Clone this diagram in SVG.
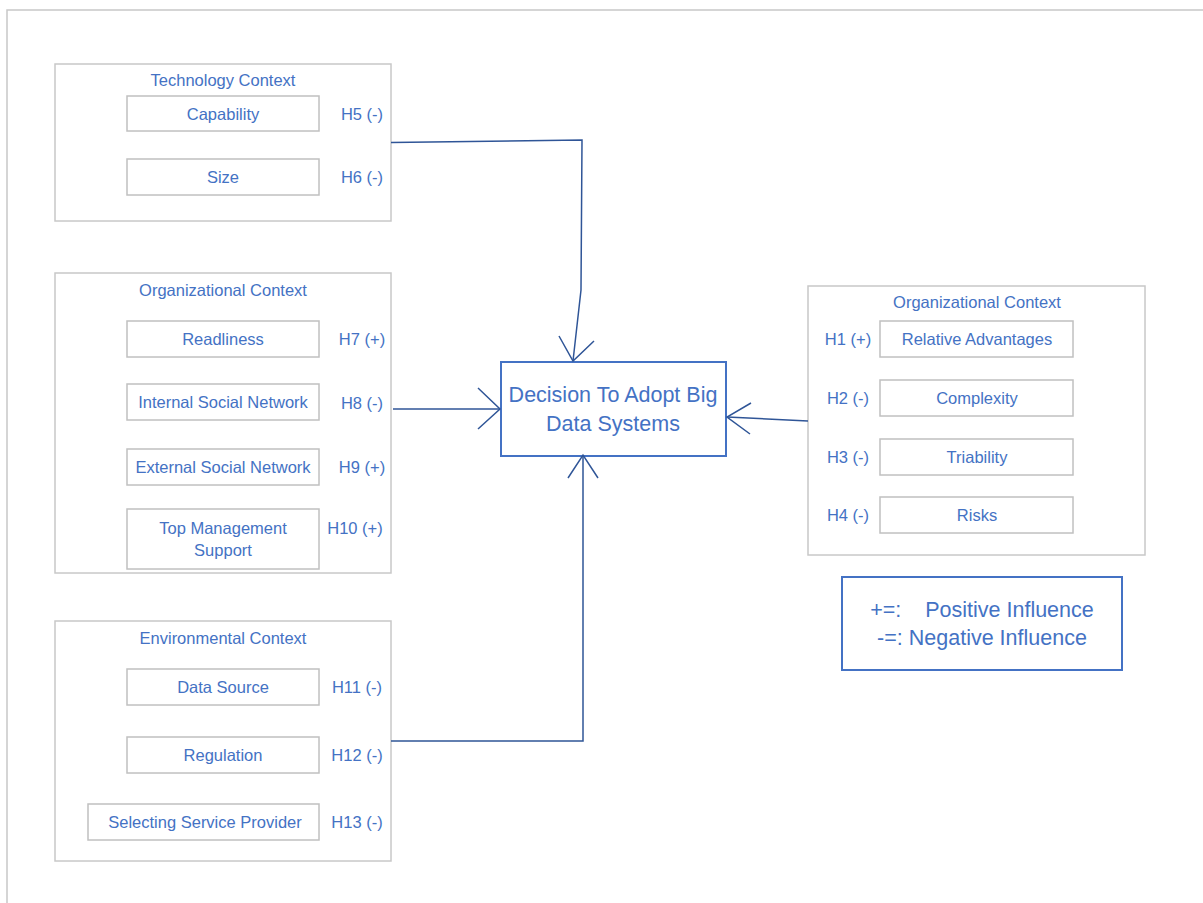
<svg xmlns="http://www.w3.org/2000/svg" width="1203" height="903" viewBox="0 0 1203 903">
<defs>
<style>
.frame{fill:none;stroke:#c8c8c8;stroke-width:1.5}
.grp{fill:#fff;stroke:#c8c8c8;stroke-width:1.5}
.item{fill:#fff;stroke:#c0c0c0;stroke-width:1.5}
.main{fill:#fff;stroke:#4472c4;stroke-width:2}
.t{font-family:"Liberation Sans",Arial,sans-serif;font-size:16.5px;fill:#4472c4;text-anchor:middle;dominant-baseline:central}
.big{font-size:21.5px}
.con{fill:none;stroke:#2f5597;stroke-width:1.5}
</style>
</defs>
<rect width="1203" height="903" fill="#fff"/>
<path class="frame" d="M7,903 V10 H1203"/>

<g id="tech">
<rect class="grp" x="55" y="64" width="336" height="157"/>
<text class="t" x="223" y="80">Technology Context</text>
<rect class="item" x="127" y="96" width="192" height="35"/>
<text class="t" x="223" y="114">Capability</text>
<rect class="item" x="127" y="159" width="192" height="36"/>
<text class="t" x="223" y="177">Size</text>
<text class="t" x="362" y="114">H5 (-)</text>
<text class="t" x="362" y="177">H6 (-)</text>
</g>

<g id="org-left">
<rect class="grp" x="55" y="273" width="336" height="300"/>
<text class="t" x="223" y="290">Organizational Context</text>
<rect class="item" x="127" y="321" width="192" height="36"/>
<text class="t" x="223" y="339">Readliness</text>
<rect class="item" x="127" y="384" width="192" height="36"/>
<text class="t" x="223" y="402">Internal Social Network</text>
<rect class="item" x="127" y="449" width="192" height="36"/>
<text class="t" x="223" y="467">External Social Network</text>
<rect class="item" x="127" y="509" width="192" height="60"/>
<text class="t" x="223" y="528">Top Management</text>
<text class="t" x="223" y="550">Support</text>
<text class="t" x="362" y="339">H7 (+)</text>
<text class="t" x="362" y="403">H8 (-)</text>
<text class="t" x="362" y="467">H9 (+)</text>
<text class="t" x="355" y="528">H10 (+)</text>
</g>

<g id="env">
<rect class="grp" x="55" y="621" width="336" height="240"/>
<text class="t" x="223" y="638">Environmental Context</text>
<rect class="item" x="127" y="669" width="192" height="36"/>
<text class="t" x="223" y="687">Data Source</text>
<rect class="item" x="127" y="737" width="192" height="36"/>
<text class="t" x="223" y="755">Regulation</text>
<rect class="item" x="88" y="804" width="231" height="36"/>
<text class="t" x="205" y="822">Selecting Service Provider</text>
<text class="t" x="357" y="687">H11 (-)</text>
<text class="t" x="357" y="755">H12 (-)</text>
<text class="t" x="357" y="822">H13 (-)</text>
</g>

<g id="decision">
<rect class="main" x="501" y="362" width="225" height="94"/>
<text class="t big" x="613" y="395">Decision To Adopt Big</text>
<text class="t big" x="613" y="424">Data Systems</text>
</g>

<g id="org-right">
<rect class="grp" x="808" y="286" width="337" height="269"/>
<text class="t" x="977" y="302">Organizational Context</text>
<rect class="item" x="880" y="321" width="193" height="36"/>
<text class="t" x="977" y="339">Relative Advantages</text>
<rect class="item" x="880" y="380" width="193" height="36"/>
<text class="t" x="977" y="398">Complexity</text>
<rect class="item" x="880" y="439" width="193" height="36"/>
<text class="t" x="977" y="457">Triability</text>
<rect class="item" x="880" y="497" width="193" height="36"/>
<text class="t" x="977" y="515">Risks</text>
<text class="t" x="848" y="339">H1 (+)</text>
<text class="t" x="848" y="398">H2 (-)</text>
<text class="t" x="848" y="457">H3 (-)</text>
<text class="t" x="848" y="515">H4 (-)</text>
</g>

<g id="legend">
<rect class="main" x="842" y="577" width="280" height="93"/>
<text class="t big" x="982" y="610" xml:space="preserve">+=:    Positive Influence</text>
<text class="t big" x="982" y="638">-=: Negative Influence</text>
</g>

<g id="connectors">
<path class="con" d="M391,142.5 L582,140 L581,290 L573,361"/>
<path class="con" d="M559,336 L573,361 L594,341"/>
<path class="con" d="M393,409 H500"/>
<path class="con" d="M478,388 L500,409 L478,429"/>
<path class="con" d="M808,421 L727,417"/>
<path class="con" d="M751,403 L727,417 L750,434"/>
<path class="con" d="M391,741 H583 V456"/>
<path class="con" d="M568,478 L583,455 L598,478"/>
</g>
</svg>
